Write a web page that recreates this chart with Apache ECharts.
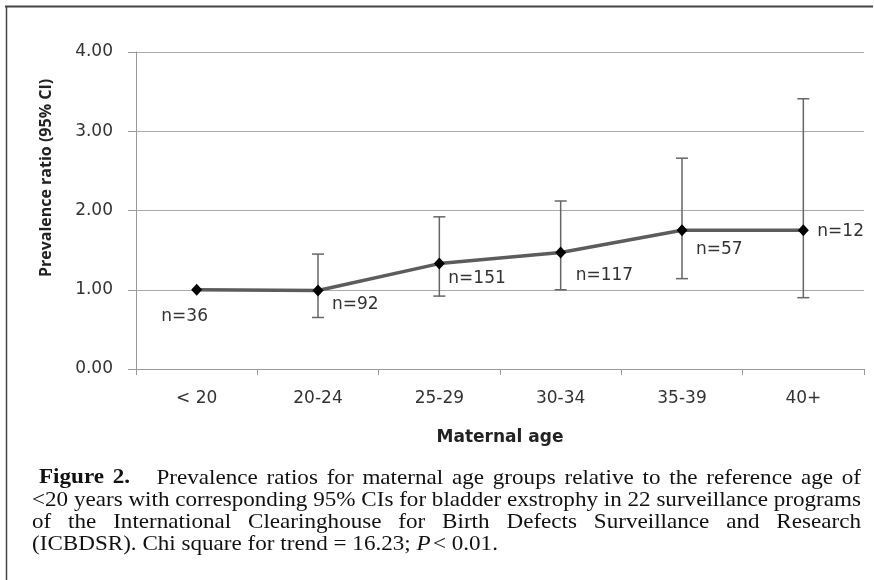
<!DOCTYPE html>
<html>
<head>
<meta charset="utf-8">
<script src="https://cdn.jsdelivr.net/npm/echarts@6/dist/echarts.min.js"></script>
<style>
  html, body { margin: 0; padding: 0; background: #fff; }
  #chart { width: 874px; height: 580px; }
</style>
</head>
<body>
<div id="chart"></div>
<script>
// ---- Data ----
const categories = ['< 20', '20-24', '25-29', '30-34', '35-39', '40+'];
const prevalenceRatio = [1.00, 0.99, 1.33, 1.47, 1.75, 1.75];
const ciLower = [null, 0.65, 0.92, 1.00, 1.14, 0.90];
const ciUpper = [null, 1.45, 1.92, 2.12, 2.66, 3.41];
const counts = [36, 92, 151, 117, 57, 12];
const yTicks = [0, 1, 2, 3, 4];
const yAxisTitle = 'Prevalence ratio (95% CI)';
const xAxisTitle = 'Maternal age';
const captionLabel = 'Figure 2.';
const captionLines = [
  'Prevalence ratios for maternal age groups relative to the reference age of',
  '<20 years with corresponding 95% CIs for bladder exstrophy in 22 surveillance programs',
  'of the International Clearinghouse for Birth Defects Surveillance and Research',
  '(ICBDSR). Chi square for trend = 16.23; P < 0.01.'
];

// ---- Chart ----
const chart = echarts.init(document.getElementById('chart'), null, { renderer: 'canvas' });
const sansH = '"DejaVu Sans", sans-serif';
const sansV = '"Open Sans", sans-serif';

// label placements (style only)
const labelPlace = [
  { align: 'center', offset: [-12, 27] },
  { align: 'left', offset: [14, 14] },
  { align: 'left', offset: [9, 15] },
  { align: 'left', offset: [15, 23] },
  { align: 'left', offset: [14, 19] },
  { align: 'left', offset: [14, 1] }
];

const lineData = prevalenceRatio.map((v, i) => ({
  value: v,
  label: {
    show: true,
    formatter: 'n=' + counts[i],
    position: 'inside',
    align: labelPlace[i].align,
    verticalAlign: 'middle',
    offset: labelPlace[i].offset,
    color: '#333',
    fontFamily: sansH,
    fontSize: 17
  }
}));

const errData = [];
categories.forEach((c, i) => {
  if (ciLower[i] != null && ciUpper[i] != null) errData.push([i, ciLower[i], ciUpper[i]]);
});

// ---- Caption layout (justified, measured) ----
const capFamily = '"Liberation Serif", "Times New Roman", serif';
const capSize = 21;
const capSX = 1.1;
const mctx = document.createElement('canvas').getContext('2d');
function measure(t, weight, style) {
  mctx.font = (style || 'normal') + ' ' + (weight || 'normal') + ' ' + capSize + 'px ' + capFamily;
  return mctx.measureText(t).width * capSX;
}
const capLeft = 32, capRight = 861, capFirst = 39;
const capY = [478, 500, 522, 544];
const graphics = [];
function addWord(t, x, y, weight, style) {
  graphics.push({
    type: 'text', x: x, y: y, scaleX: capSX, silent: true,
    style: {
      text: t, fill: '#111', fontFamily: capFamily, fontSize: capSize,
      fontWeight: weight || 'normal', fontStyle: style || 'normal',
      align: 'left', verticalAlign: 'middle'
    }
  });
}
const spaceW = measure(' ');
captionLines.forEach((line, li) => {
  let words = line.split(' ').map(t => ({ t: t, b: 'normal', i: (t === 'P' ? 'italic' : 'normal') }));
  let start = capLeft;
  if (li === 0) {
    const lw = captionLabel.split(' ').map(t => ({ t: t, b: 'bold', i: 'normal' }));
    words = lw.concat(words);
    start = capFirst;
  }
  const widths = words.map(w => measure(w.t, w.b, w.i));
  const total = widths.reduce((a, b) => a + b, 0);
  const n = words.length;
  const weights = words.map((w, k) => (li === 0 && k === 1) ? 3 : 1); // wider gap after "Figure 2."
  weights.pop();
  const justify = li < 3;
  let gapUnit = spaceW;
  if (justify) {
    const wsum = weights.reduce((a, b) => a + b, 0);
    gapUnit = (capRight - start - total) / wsum;
  }
  let x = start;
  words.forEach((w, k) => {
    addWord(w.t, x, capY[li], w.b, w.i);
    x += widths[k] + (k < n - 1 ? gapUnit * (justify ? weights[k] : (li === 3 && w.t === 'P' ? 0.4 : 1)) : 0);
  });
});

// frame
graphics.push({ type: 'line', silent: true, shape: { x1: 5, y1: 6.5, x2: 873, y2: 6.5 }, style: { stroke: '#444', lineWidth: 2 } });
graphics.push({ type: 'line', silent: true, shape: { x1: 6.5, y1: 6, x2: 6.5, y2: 580 }, style: { stroke: '#444', lineWidth: 1.5 } });
// rotated y-axis title
graphics.push({
  type: 'text', x: 46, y: 178, rotation: Math.PI / 2, silent: true,
  style: { text: yAxisTitle, fill: '#222', fontFamily: sansV, fontWeight: 'bold', fontSize: 16, align: 'center', verticalAlign: 'middle' }
});

const option = {
  animation: false,
  backgroundColor: '#fff',
  grid: { left: 136, right: 10, top: 52, bottom: 211 },
  xAxis: {
    type: 'category',
    data: categories,
    boundaryGap: true,
    name: xAxisTitle,
    nameLocation: 'middle',
    nameGap: 60,
    nameTextStyle: { fontFamily: sansH, fontWeight: 'bold', fontSize: 17, color: '#222' },
    axisLine: { lineStyle: { color: '#999', width: 1 } },
    axisTick: { show: true, length: 6, alignWithLabel: false, lineStyle: { color: '#999' } },
    axisLabel: { fontFamily: sansH, fontSize: 17, color: '#333', margin: 21 },
    splitLine: { show: false }
  },
  yAxis: {
    type: 'value',
    min: yTicks[0],
    max: yTicks[yTicks.length - 1],
    interval: 1,
    axisLine: { show: true, lineStyle: { color: '#999', width: 1 } },
    axisTick: { show: true, length: 8, inside: false, lineStyle: { color: '#999' } },
    axisLabel: { fontFamily: sansH, fontSize: 17, color: '#333', margin: 23, formatter: v => v.toFixed(2) },
    splitLine: { show: true, lineStyle: { color: '#aaa', width: 1 } }
  },
  series: [
    {
      type: 'custom',
      z: 2,
      encode: { x: 0, y: [1, 2] },
      data: errData,
      renderItem: function (params, api) {
        const idx = api.value(0);
        const top = api.coord([idx, api.value(2)]);
        const bot = api.coord([idx, api.value(1)]);
        const hw = 6;
        const st = { stroke: '#666', lineWidth: 1.5 };
        return {
          type: 'group',
          children: [
            { type: 'line', shape: { x1: top[0], y1: top[1], x2: bot[0], y2: bot[1] }, style: st },
            { type: 'line', shape: { x1: top[0] - hw, y1: top[1], x2: top[0] + hw, y2: top[1] }, style: st },
            { type: 'line', shape: { x1: bot[0] - hw, y1: bot[1], x2: bot[0] + hw, y2: bot[1] }, style: st }
          ]
        };
      }
    },
    {
      type: 'line',
      z: 3,
      data: lineData,
      symbol: 'diamond',
      symbolSize: [11, 12],
      itemStyle: { color: '#000' },
      lineStyle: { color: '#5c5c5c', width: 3.5 },
      emphasis: { disabled: true }
    }
  ],
  graphic: graphics
};
chart.setOption(option);
</script>
</body>
</html>
